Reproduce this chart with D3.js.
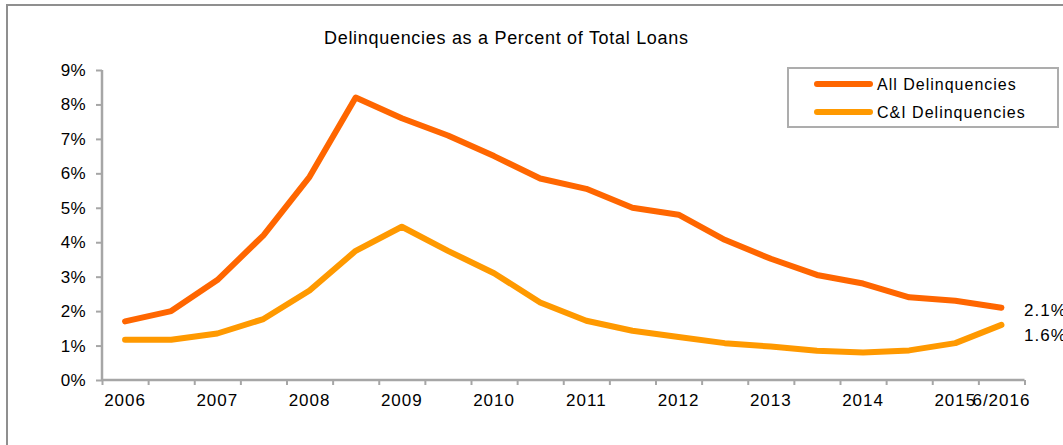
<!DOCTYPE html>
<html>
<head>
<meta charset="utf-8">
<script src="https://cdn.jsdelivr.net/npm/d3@7"></script>
<style>
  html, body { margin: 0; padding: 0; background: #fff; }
  svg { display: block; font-family: "Liberation Sans", Arial, sans-serif; }
</style>
</head>
<body>
<svg id="chart" width="1063" height="445"></svg>
<script>
// Half-year periods, labelled on every other slot
const periods = ["2006", "2006H2", "2007", "2007H2", "2008", "2008H2", "2009", "2009H2",
  "2010", "2010H2", "2011", "2011H2", "2012", "2012H2", "2013", "2013H2",
  "2014", "2014H2", "2015", "6/2016"];
const periodLabels = ["2006", "", "2007", "", "2008", "", "2009", "", "2010", "",
  "2011", "", "2012", "", "2013", "", "2014", "", "2015", "6/2016"];

// Delinquency rates, percent of total loans
const allDelinquencies = [1.7, 2.0, 2.9, 4.2, 5.9, 8.2, 7.6, 7.1, 6.5, 5.85,
  5.55, 5.0, 4.8, 4.07, 3.52, 3.05, 2.8, 2.4, 2.3, 2.1];
const ciDelinquencies = [1.17, 1.17, 1.35, 1.77, 2.6, 3.75, 4.45, 3.75, 3.1, 2.25,
  1.72, 1.43, 1.25, 1.07, 0.97, 0.85, 0.8, 0.86, 1.07, 1.6];

const yTicks = [0, 1, 2, 3, 4, 5, 6, 7, 8, 9];

const seriesList = [
  { name: "All Delinquencies", values: allDelinquencies, color: "#ff6600" },
  { name: "C&I Delinquencies", values: ciDelinquencies, color: "#ff9900" }
];

const svg = d3.select("#chart");
const axisColor = "#a6a6a6";

// Outer frame
svg.append("rect")
  .attr("x", 7).attr("y", 5).attr("width", 1100).attr("height", 500)
  .attr("fill", "none").attr("stroke", "#8f8f8f").attr("stroke-width", 2);

// Scales
const x = d3.scaleBand().domain(periods).range([102, 1024.5]).padding(0);
const xEdge = d3.scaleLinear().domain([0, periods.length]).range([102, 1024.5]);
const y = d3.scaleLinear().domain([0, 9]).range([380, 70]);

// Title
svg.append("text")
  .attr("x", 324).attr("y", 44)
  .attr("textLength", 364).attr("lengthAdjust", "spacing")
  .attr("font-size", 18).attr("fill", "#000")
  .text("Delinquencies as a Percent of Total Loans");

// Y axis
const yAxis = svg.append("g")
  .attr("transform", "translate(102,0)")
  .call(d3.axisLeft(y).tickValues(yTicks).tickSize(6).tickPadding(10)
    .tickFormat(d => d + "%"));
yAxis.select(".domain").attr("stroke", axisColor).attr("stroke-width", 2.5)
  .attr("d", `M0,${y(9)}V${y(0)}`);
yAxis.selectAll(".tick line").attr("stroke", axisColor).attr("stroke-width", 2);
yAxis.selectAll(".tick text").attr("font-size", 17).attr("fill", "#000")
  .attr("font-family", "Liberation Sans, Arial, sans-serif")
  .attr("letter-spacing", 0.4);

// X axis: tick marks at period boundaries
const xTickAxis = svg.append("g")
  .attr("transform", `translate(0,${y(0)})`)
  .call(d3.axisBottom(xEdge).tickValues(d3.range(0, periods.length + 1))
    .tickSize(5).tickFormat(""));
xTickAxis.select(".domain").attr("stroke", axisColor).attr("stroke-width", 2.5)
  .attr("d", `M${xEdge(0)},0H${xEdge(periods.length)}`);
xTickAxis.selectAll(".tick line").attr("stroke", axisColor).attr("stroke-width", 2);

// X axis: period labels centred in each slot
const xLabelAxis = svg.append("g")
  .attr("transform", `translate(0,${y(0)})`)
  .call(d3.axisBottom(x).tickSize(0).tickPadding(14)
    .tickFormat((d, i) => periodLabels[i]));
xLabelAxis.select(".domain").remove();
xLabelAxis.selectAll(".tick text").attr("font-size", 17).attr("fill", "#000")
  .attr("font-family", "Liberation Sans, Arial, sans-serif")
  .attr("letter-spacing", 1);

// Lines
const line = d3.line()
  .x((d, i) => x(periods[i]) + x.bandwidth() / 2)
  .y(d => y(d));

seriesList.forEach(s => {
  svg.append("path")
    .datum(s.values)
    .attr("d", line)
    .attr("fill", "none")
    .attr("stroke", s.color)
    .attr("stroke-width", 6)
    .attr("stroke-linejoin", "round")
    .attr("stroke-linecap", "round");
});

// Latest-value labels
const last = periods.length - 1;
const endLabels = [
  { v: allDelinquencies[last], dy: 2 },
  { v: ciDelinquencies[last], dy: 10 }
];
endLabels.forEach(l => {
  svg.append("text")
    .attr("x", 1024)
    .attr("y", y(l.v) + l.dy)
    .attr("dy", "0.35em")
    .attr("font-size", 17)
    .attr("letter-spacing", 1)
    .attr("fill", "#000")
    .text(l.v.toFixed(1) + "%");
});

// Legend
const legend = svg.append("g");
legend.append("rect")
  .attr("x", 788).attr("y", 68).attr("width", 270).attr("height", 59)
  .attr("fill", "#fff").attr("stroke", "#adadad").attr("stroke-width", 2);
seriesList.forEach((s, i) => {
  const ly = 84 + i * 28;
  legend.append("line")
    .attr("x1", 817).attr("x2", 870).attr("y1", ly).attr("y2", ly)
    .attr("stroke", s.color).attr("stroke-width", 6)
    .attr("stroke-linecap", "round");
  legend.append("text")
    .attr("x", 877).attr("y", ly).attr("dy", "0.35em")
    .attr("font-size", 16).attr("letter-spacing", 1)
    .attr("fill", "#000")
    .text(s.name);
});
</script>
</body>
</html>
